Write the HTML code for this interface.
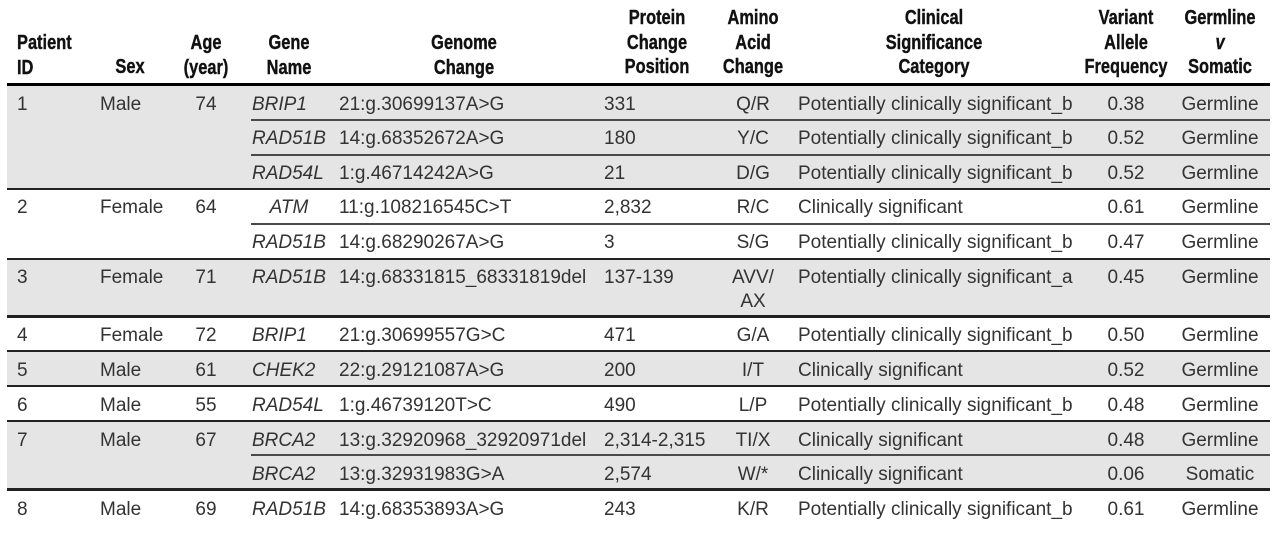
<!DOCTYPE html>
<html>
<head>
<meta charset="utf-8">
<style>
html,body{margin:0;padding:0;background:#fff;}
#c{position:relative;width:1280px;height:537px;overflow:hidden;background:#fff;font-family:"Liberation Sans",Arial,sans-serif;}
.bg{position:absolute;left:7px;width:1263px;background:#e5e5e5;}
.ln{position:absolute;left:7px;width:1263px;background:#222;}
.sl{position:absolute;left:251px;width:1019px;background:#4a4a4a;height:2px;}
.h{position:absolute;font-family:"Liberation Sans",sans-serif;font-weight:bold;font-size:20px;line-height:24.5px;color:#111;white-space:nowrap;-webkit-text-stroke:0.4px #111;}
.h span{display:block;transform:scaleX(0.82);transform-origin:50% 50%;}
.hl span{transform-origin:0 50%;}
.hc{text-align:center;width:200px;}
.r{position:absolute;left:0;width:1280px;height:24px;}
.r div{position:absolute;top:0;font-size:19px;line-height:24px;color:#333;white-space:nowrap;}
.c{width:200px;text-align:center;}
.id{left:17px}.sex{left:100px}.age{left:106px}.gene{left:252px;font-style:italic}
.genc{left:189px;font-style:italic}
.gen{left:339px}.pos{left:604px}.aa{left:653px}.cat{left:798px}.vaf{left:1026px}.gs{left:1120px}
</style>
</head>
<body>
<div id="c">
<!-- backgrounds -->
<div class="bg" style="top:86px;height:103px"></div>
<div class="bg" style="top:259px;height:57px"></div>
<div class="bg" style="top:351px;height:35px"></div>
<div class="bg" style="top:421px;height:68px"></div>

<!-- header -->
<div class="h hl" style="left:17px;top:31px"><span>Patient</span><span>ID</span></div>
<div class="h hc" style="left:30px;top:55px"><span>Sex</span></div>
<div class="h hc" style="left:106px;top:31px"><span>Age</span><span>(year)</span></div>
<div class="h hc" style="left:189px;top:31px"><span>Gene</span><span>Name</span></div>
<div class="h hc" style="left:364px;top:31px"><span>Genome</span><span>Change</span></div>
<div class="h hc" style="left:557px;top:6px"><span>Protein</span><span>Change</span><span>Position</span></div>
<div class="h hc" style="left:653px;top:6px"><span>Amino</span><span>Acid</span><span>Change</span></div>
<div class="h hc" style="left:834px;top:6px"><span>Clinical</span><span>Significance</span><span>Category</span></div>
<div class="h hc" style="left:1026px;top:6px"><span>Variant</span><span>Allele</span><span>Frequency</span></div>
<div class="h hc" style="left:1120px;top:6px"><span>Germline</span><span><i>v</i></span><span>Somatic</span></div>

<!-- lines -->
<div class="ln" style="top:83px;height:3px;background:#000"></div>
<div class="sl" style="top:119px"></div>
<div class="sl" style="top:154px"></div>
<div class="ln" style="top:188px;height:2px"></div>
<div class="sl" style="top:223px"></div>
<div class="ln" style="top:258px;height:2px"></div>
<div class="ln" style="top:315px;height:2.5px"></div>
<div class="ln" style="top:350px;height:2px"></div>
<div class="ln" style="top:385px;height:2px"></div>
<div class="ln" style="top:420px;height:2px"></div>
<div class="sl" style="top:454px"></div>
<div class="ln" style="top:488px;height:2.5px"></div>

<!-- rows -->
<div class="r" style="top:92.5px">
<div class="id">1</div><div class="sex">Male</div><div class="age c">74</div><div class="gene">BRIP1</div><div class="gen">21:g.30699137A&gt;G</div><div class="pos">331</div><div class="aa c">Q/R</div><div class="cat">Potentially clinically significant_b</div><div class="vaf c">0.38</div><div class="gs c">Germline</div>
</div>
<div class="r" style="top:126.5px">
<div class="gene">RAD51B</div><div class="gen">14:g.68352672A&gt;G</div><div class="pos">180</div><div class="aa c">Y/C</div><div class="cat">Potentially clinically significant_b</div><div class="vaf c">0.52</div><div class="gs c">Germline</div>
</div>
<div class="r" style="top:161.5px">
<div class="gene">RAD54L</div><div class="gen">1:g.46714242A&gt;G</div><div class="pos">21</div><div class="aa c">D/G</div><div class="cat">Potentially clinically significant_b</div><div class="vaf c">0.52</div><div class="gs c">Germline</div>
</div>
<div class="r" style="top:195.5px">
<div class="id">2</div><div class="sex">Female</div><div class="age c">64</div><div class="genc c">ATM</div><div class="gen">11:g.108216545C&gt;T</div><div class="pos">2,832</div><div class="aa c">R/C</div><div class="cat">Clinically significant</div><div class="vaf c">0.61</div><div class="gs c">Germline</div>
</div>
<div class="r" style="top:230.5px">
<div class="gene">RAD51B</div><div class="gen">14:g.68290267A&gt;G</div><div class="pos">3</div><div class="aa c">S/G</div><div class="cat">Potentially clinically significant_b</div><div class="vaf c">0.47</div><div class="gs c">Germline</div>
</div>
<div class="r" style="top:265.5px">
<div class="id">3</div><div class="sex">Female</div><div class="age c">71</div><div class="gene">RAD51B</div><div class="gen">14:g.68331815_68331819del</div><div class="pos">137-139</div><div class="aa c">AVV/<br>AX</div><div class="cat">Potentially clinically significant_a</div><div class="vaf c">0.45</div><div class="gs c">Germline</div>
</div>
<div class="r" style="top:323.5px">
<div class="id">4</div><div class="sex">Female</div><div class="age c">72</div><div class="gene">BRIP1</div><div class="gen">21:g.30699557G&gt;C</div><div class="pos">471</div><div class="aa c">G/A</div><div class="cat">Potentially clinically significant_b</div><div class="vaf c">0.50</div><div class="gs c">Germline</div>
</div>
<div class="r" style="top:358.5px">
<div class="id">5</div><div class="sex">Male</div><div class="age c">61</div><div class="gene">CHEK2</div><div class="gen">22:g.29121087A&gt;G</div><div class="pos">200</div><div class="aa c">I/T</div><div class="cat">Clinically significant</div><div class="vaf c">0.52</div><div class="gs c">Germline</div>
</div>
<div class="r" style="top:393.5px">
<div class="id">6</div><div class="sex">Male</div><div class="age c">55</div><div class="gene">RAD54L</div><div class="gen">1:g.46739120T&gt;C</div><div class="pos">490</div><div class="aa c">L/P</div><div class="cat">Potentially clinically significant_b</div><div class="vaf c">0.48</div><div class="gs c">Germline</div>
</div>
<div class="r" style="top:428.5px">
<div class="id">7</div><div class="sex">Male</div><div class="age c">67</div><div class="gene">BRCA2</div><div class="gen">13:g.32920968_32920971del</div><div class="pos">2,314-2,315</div><div class="aa c">TI/X</div><div class="cat">Clinically significant</div><div class="vaf c">0.48</div><div class="gs c">Germline</div>
</div>
<div class="r" style="top:462.5px">
<div class="gene">BRCA2</div><div class="gen">13:g.32931983G&gt;A</div><div class="pos">2,574</div><div class="aa c">W/*</div><div class="cat">Clinically significant</div><div class="vaf c">0.06</div><div class="gs c">Somatic</div>
</div>
<div class="r" style="top:497.5px">
<div class="id">8</div><div class="sex">Male</div><div class="age c">69</div><div class="gene">RAD51B</div><div class="gen">14:g.68353893A&gt;G</div><div class="pos">243</div><div class="aa c">K/R</div><div class="cat">Potentially clinically significant_b</div><div class="vaf c">0.61</div><div class="gs c">Germline</div>
</div>
</div>
</body>
</html>
